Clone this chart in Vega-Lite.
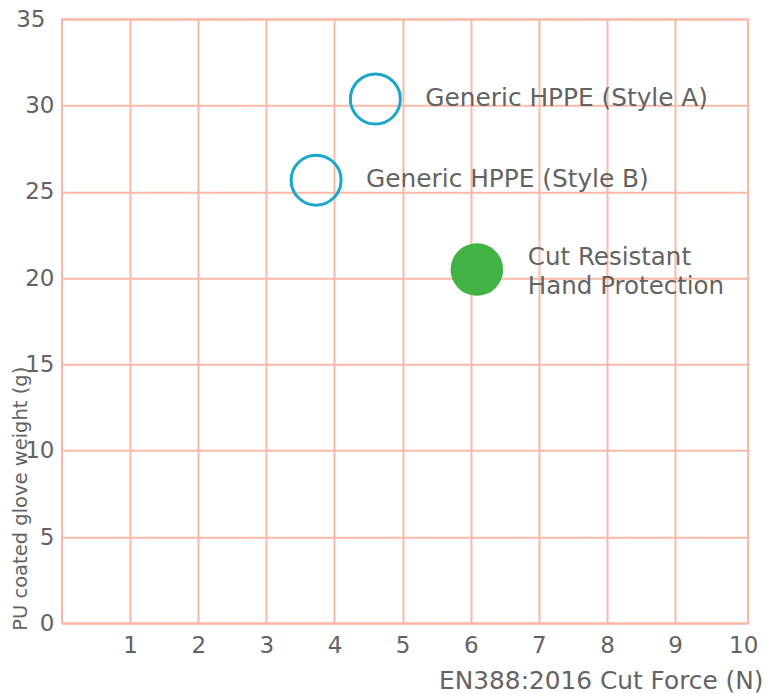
{
  "$schema": "https://vega.github.io/schema/vega-lite/v6.json",
  "autosize": "none",
  "padding": {"left": 62, "top": 19.3, "right": 21, "bottom": 70.7},
  "width": 686,
  "height": 604,
  "background": "white",
  "config": {
    "view": {"stroke": "#f9b8a8", "strokeWidth": 2},
    "font": "DejaVu Sans"
  },
  "data": {
    "values": [
      {"name": "Generic HPPE (Style A)", "force": 4.6, "weight": 30.38, "kind": "Generic"},
      {"name": "Generic HPPE (Style B)", "force": 3.73, "weight": 25.68, "kind": "Generic"},
      {"name": "Cut Resistant\nHand Protection", "force": 6.09, "weight": 20.5, "kind": "Ours"}
    ]
  },
  "encoding": {
    "x": {
      "field": "force",
      "type": "quantitative",
      "scale": {"domain": [0, 10.07], "nice": false, "zero": false},
      "axis": {
        "title": "EN388:2016 Cut Force (N)",
        "values": [1, 2, 3, 4, 5, 6, 7, 8, 9, 10],
        "grid": true,
        "gridColor": "#f9b8a8",
        "gridWidth": 2,
        "gridOpacity": {"condition": {"test": "datum.value == 10", "value": 0}, "value": 1},
        "domain": false,
        "ticks": false,
        "labelPadding": 11,
        "labelFontSize": 23,
        "labelColor": "#636363",
        "labelFont": "DejaVu Sans",
        "titleFont": "DejaVu Sans",
        "titleFontSize": 24.8,
        "titleFontWeight": "normal",
        "titleColor": "#636363",
        "titleX": 701,
        "titleY": 65,
        "titleAlign": "right",
        "titleBaseline": "alphabetic",
        "titleAnchor": null
      }
    },
    "y": {
      "field": "weight",
      "type": "quantitative",
      "scale": {"domain": [0, 35], "nice": false},
      "axis": {
        "title": "PU coated glove weight (g)",
        "values": [0, 5, 10, 15, 20, 25, 30, 35],
        "grid": true,
        "gridColor": "#f9b8a8",
        "gridWidth": 2,
        "domain": false,
        "ticks": false,
        "labelPadding": {"condition": {"test": "datum.value == 35", "value": 17}, "value": 8},
        "labelFontSize": 23,
        "labelColor": "#636363",
        "labelFont": "DejaVu Sans",
        "titleFont": "DejaVu Sans",
        "titleFontSize": 19.5,
        "titleFontWeight": "normal",
        "titleColor": "#636363",
        "titleAngle": -90,
        "titleX": -42,
        "titleY": 611,
        "titleAlign": "left",
        "titleBaseline": "middle"
      }
    }
  },
  "layer": [
    {
      "mark": {"type": "point", "shape": "circle", "filled": false, "size": 2500, "strokeWidth": 3, "color": "#1aa7ca", "opacity": 1},
      "transform": [{"filter": "datum.kind == 'Generic'"}]
    },
    {
      "mark": {"type": "point", "shape": "circle", "filled": true, "size": 2767, "color": "#43b244", "opacity": 1, "strokeWidth": 0},
      "transform": [{"filter": "datum.kind == 'Ours'"}]
    },
    {
      "mark": {"type": "text", "align": "left", "baseline": "middle", "dx": 50, "fontSize": 24.8, "color": "#636363"},
      "transform": [{"filter": "datum.kind == 'Generic'"}],
      "encoding": {"text": {"field": "name"}}
    },
    {
      "mark": {"type": "text", "align": "left", "baseline": "middle", "dx": 51, "dy": -12, "fontSize": 24.5, "color": "#636363", "lineBreak": "\n", "lineHeight": 29},
      "transform": [{"filter": "datum.kind == 'Ours'"}],
      "encoding": {"text": {"field": "name"}}
    }
  ]
}
